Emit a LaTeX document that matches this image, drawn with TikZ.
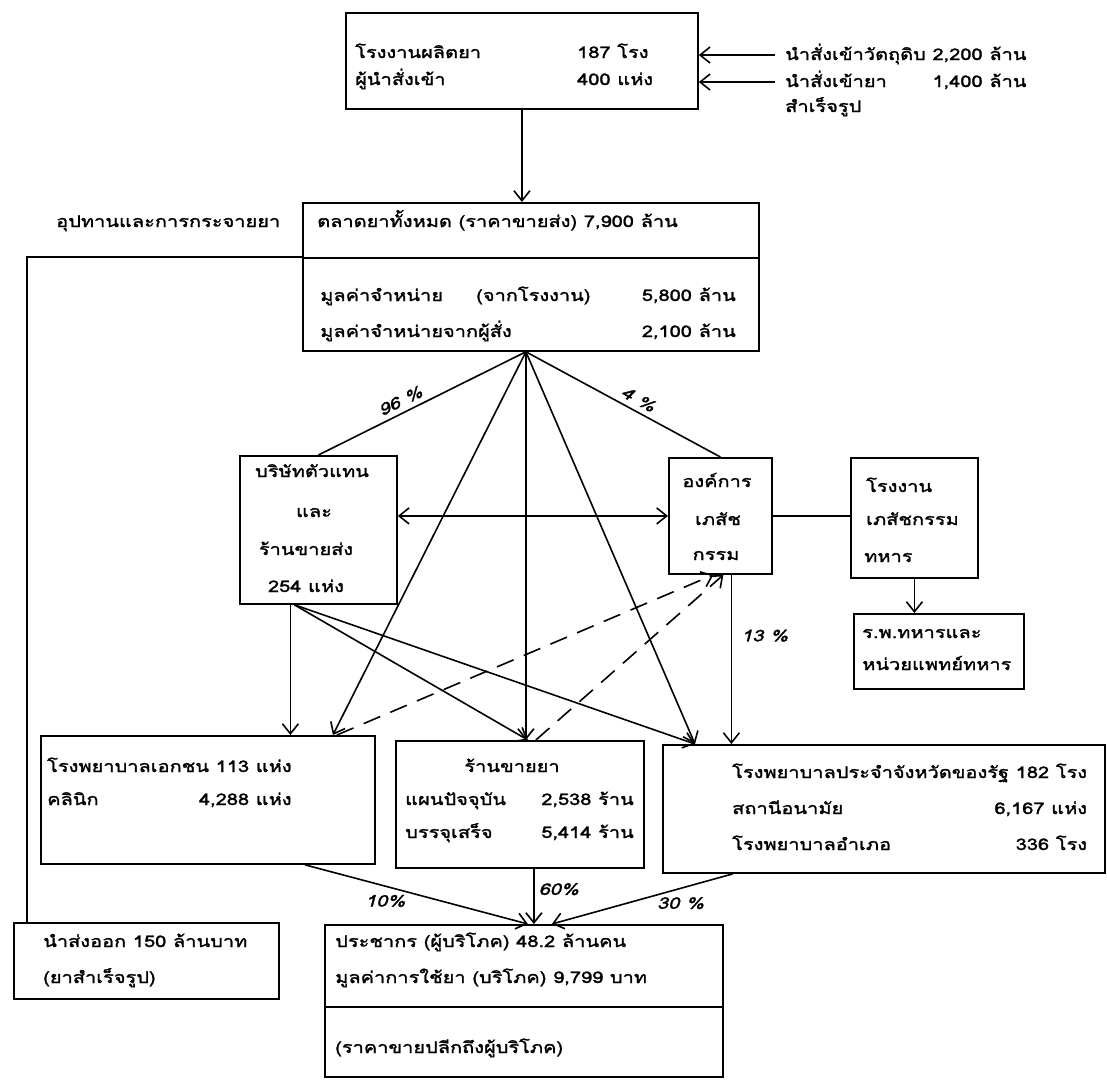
\documentclass[tikz,border=0pt]{standalone}
\usepackage{fontspec}
\usepackage{tikz}
\usetikzlibrary{arrows.meta,calc}
\newfontfamily\thai[Script=Thai,FakeStretch=1.25,FakeBold=1.6]{Loma}

\tikzset{
  box/.style={draw, line width=1.8pt, inner sep=0pt, anchor=north west},
  txt/.style={inner sep=0pt, font=\thai\fontsize{16}{18}\selectfont},
  pct/.style={inner sep=0pt, font=\thai\itshape\fontsize{16}{18}\selectfont},
  link/.style={line width=1.6pt},
  arr/.style={link, -{Straight Barb[length=10pt,width=16pt]}},
  darr/.style={link, {Straight Barb[length=10pt,width=16pt]}-{Straight Barb[length=10pt,width=16pt]}},
  dashlink/.style={arr, dash pattern=on 18pt off 11pt},
}

\begin{document}
\begin{tikzpicture}[x=1pt, y=-1pt]
	\path[fill=white] (0,0) rectangle (1107,1082);

	% boxes
	\node[box, minimum width=352pt, minimum height=96pt] (prod) at (345,12) {};
	\node[box, minimum width=456pt, minimum height=55pt] (mkt) at (302,202) {};
	\node[box, minimum width=456pt, minimum height=93pt] (sales) at (302,257) {};
	\node[box, minimum width=157pt, minimum height=148pt] (agent) at (239,455) {};
	\node[box, minimum width=103pt, minimum height=116pt] (gpo) at (668,457) {};
	\node[box, minimum width=127pt, minimum height=120pt] (milfac) at (850,457) {};
	\node[box, minimum width=170pt, minimum height=75pt] (milhosp) at (853,613) {};
	\node[box, minimum width=334pt, minimum height=128pt] (priv) at (40,735) {};
	\node[box, minimum width=248pt, minimum height=127pt] (store) at (395,740) {};
	\node[box, minimum width=442pt, minimum height=128pt] (state) at (662,744) {};
	\node[box, minimum width=265pt, minimum height=76pt] (export) at (13,922) {};
	\node[box, minimum width=398pt, minimum height=82pt] (cons) at (324,924) {};
	\node[box, minimum width=398pt, minimum height=70pt] (retail) at (324,1006) {};

	% texts
	\node[txt, anchor=base west] (prodA) at (355,58) {โรงงานผลิตยา};
	\node[txt, anchor=base west] (prodAn) at (577,58) {187 โรง};
	\node[txt, anchor=base west] (prodB) at (355,85) {ผู้นำสั่งเข้า};
	\node[txt, anchor=base west] (prodBn) at (577,85) {400 แห่ง};
	\node[txt, anchor=base west] (impA) at (785,60) {นำสั่งเข้าวัตถุดิบ 2,200 ล้าน};
	\node[txt, anchor=base west] (impB) at (785,87) {นำสั่งเข้ายา};
	\node[txt, anchor=base east] (impBn) at ($(impA.base east)+(0,27)$) {1,400 ล้าน};
	\node[txt, anchor=base west] (impC) at (785,112) {สำเร็จรูป};
	\node[txt, anchor=base west] (supply) at (56,227) {อุปทานและการกระจายยา};
	\node[txt, anchor=base west] (mktA) at (317,227) {ตลาดยาทั้งหมด (ราคาขายส่ง) 7,900 ล้าน};
	\node[txt, anchor=base west] (salesA) at (320,301) {มูลค่าจำหน่าย};
	\node[txt, anchor=base west] (salesAm) at (476,301) {(จากโรงงาน)};
	\node[txt, anchor=base east] (salesAn) at (736,301) {5,800 ล้าน};
	\node[txt, anchor=base west] (salesB) at (320,337) {มูลค่าจำหน่ายจากผู้สั่ง};
	\node[txt, anchor=base east] (salesBn) at (736,337) {2,100 ล้าน};
	\node[txt, anchor=base] (agentA) at (312,477) {บริษัทตัวแทน};
	\node[txt, anchor=base] (agentB) at (314,517) {และ};
	\node[txt, anchor=base] (agentC) at (306,555) {ร้านขายส่ง};
	\node[txt, anchor=base] (agentD) at (306,592) {254 แห่ง};
	\node[txt, anchor=base] (gpoA) at (717,487) {องค์การ};
	\node[txt, anchor=base] (gpoB) at (718,525) {เภสัช};
	\node[txt, anchor=base] (gpoC) at (716,560) {กรรม};
	\node[txt, anchor=base west] (milfacA) at (866,492) {โรงงาน};
	\node[txt, anchor=base west] (milfacB) at (866,525) {เภสัชกรรม};
	\node[txt, anchor=base west] (milfacC) at (864,562) {ทหาร};
	\node[txt, anchor=base west] (milhospA) at (862,638) {ร.พ.ทหารและ};
	\node[txt, anchor=base west] (milhospB) at (862,670) {หน่วยแพทย์ทหาร};
	\node[txt, anchor=base west] (privA) at (47,772) {โรงพยาบาลเอกชน 113 แห่ง};
	\node[txt, anchor=base west] (privB) at (47,805) {คลินิก};
	\node[txt, anchor=base east] (privBn) at ($(privA.base east)+(0,33)$) {4,288 แห่ง};
	\node[txt, anchor=base] (storeA) at (512,772) {ร้านขายยา};
	\node[txt, anchor=base west] (storeB) at (405,805) {แผนปัจจุบัน};
	\node[txt, anchor=base east] (storeBn) at (634,805) {2,538 ร้าน};
	\node[txt, anchor=base west] (storeC) at (405,838) {บรรจุเสร็จ};
	\node[txt, anchor=base east] (storeCn) at (634,838) {5,414 ร้าน};
	\node[txt, anchor=base west] (stateA) at (732,778) {โรงพยาบาลประจำจังหวัดของรัฐ 182 โรง};
	\node[txt, anchor=base west] (stateB) at (732,814) {สถานีอนามัย};
	\node[txt, anchor=base east] (stateBn) at ($(stateA.base east)+(0,36)$) {6,167 แห่ง};
	\node[txt, anchor=base west] (stateC) at (732,850) {โรงพยาบาลอำเภอ};
	\node[txt, anchor=base east] (stateCn) at ($(stateA.base east)+(0,72)$) {336 โรง};
	\node[txt, anchor=base west] (exportA) at (43,947) {นำส่งออก 150 ล้านบาท};
	\node[txt, anchor=base west] (exportB) at (43,983) {(ยาสำเร็จรูป)};
	\node[txt, anchor=base west] (consA) at (335,947) {ประชากร (ผู้บริโภค) 48.2 ล้านคน};
	\node[txt, anchor=base west] (consB) at (335,983) {มูลค่าการใช้ยา (บริโภค) 9,799 บาท};
	\node[txt, anchor=base west] (retailA) at (335,1053) {(ราคาขายปลีกถึงผู้บริโภค)};

	% supply side
	\coordinate (in1) at (775,55);
	\coordinate (in2) at (775,82);
	\draw[arr] (in1) -- (in1 -| prod.east);
	\draw[arr] (in2) -- (in2 -| prod.east);
	\draw[arr] (prod.south) -- (prod.south |- mkt.north);
	\draw[link] (sales.north west) -| ([xshift=14pt]export.north west);

	% from the market
	\coordinate (fan) at ([xshift=-5pt]sales.south);
	\coordinate (stateIn) at ([xshift=33pt]state.north west);
	\draw[link] (agent.north) -- node[pct, sloped, above=5pt, pos=0.42] (p96) {96 \%} (fan);
	\draw[link] (fan) -- node[pct, sloped, above=5pt, pos=0.55] (p4) {4 \%} (gpo.north);
	\draw[arr] (fan) -- ([xshift=125pt]priv.north);
	\draw[arr] (fan) -- (fan |- store.north);
	\draw[arr] (fan) -- (stateIn);

	% agents and GPO
	\coordinate (agDown) at ([xshift=-28pt]agent.south);
	\coordinate (agOut) at ([xshift=-24pt]agent.south);
	\coordinate (gpoDown) at ([xshift=11pt]gpo.south);
	\draw[arr] (agDown) -- (agDown |- priv.north);
	\draw[arr] (agOut) -- ([xshift=8pt]store.north);
	\draw[arr] (agOut) -- (stateIn);
	\draw[darr] (agent.east |- gpo.west) -- (gpo.west);
	\draw[arr] (gpoDown) -- node[pct, right=9pt, pos=0.36] (p13) {13 \%} (gpoDown |- state.north);
	\draw[link] (gpo.east) -- (gpo.east -| milfac.west);
	\draw[arr] (milfac.south) -- (milfac.south |- milhosp.north);
	\draw[dashlink] ([xshift=129pt]priv.north) -- ([xshift=-7pt]gpo.south);
	\draw[dashlink] ([xshift=16pt]store.north) -- ([xshift=3pt]gpo.south);

	% to the consumers
	\coordinate (c10) at ([xshift=4pt]cons.north);
	\coordinate (c60) at ([xshift=10pt]cons.north);
	\coordinate (c30) at ([xshift=28pt]cons.north);
	\draw[arr] ([xshift=97pt]priv.south) -- node[pct, below=8pt, pos=0.36] (p10) {10\%} (c10);
	\draw[arr] (c60 |- store.south) -- node[pct, right=4pt, pos=0.37] (p60) {60\%} (c60);
	\draw[arr] ([xshift=71pt]state.south west) -- node[pct, below=8pt, pos=0.29] (p30) {30 \%} (c30);
\end{tikzpicture}
\end{document}
